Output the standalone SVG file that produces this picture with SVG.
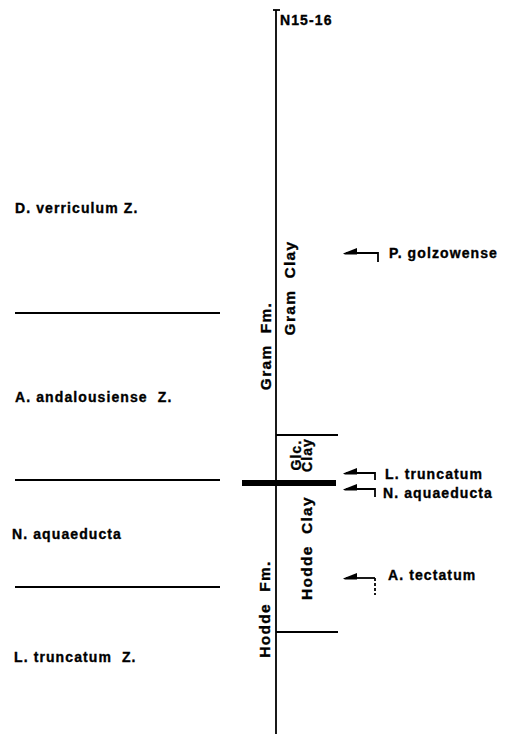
<svg xmlns="http://www.w3.org/2000/svg" width="508" height="734" viewBox="0 0 508 734">
<style>
text{font-family:"Liberation Sans",Arial,sans-serif;font-weight:bold;font-size:14px;letter-spacing:1.1px;fill:#000;stroke:#000;stroke-width:0.35;white-space:pre}
.v{font-size:15.5px;letter-spacing:1.3px}
.l{stroke:#000;stroke-width:1.8;fill:none}
.d{stroke:#000;stroke-width:1.8;fill:none;stroke-dasharray:3,2}
</style>
<defs>
<path id="ah" d="M-2,0.5 L12,-5 L12,1.5 L0,1.5 Z" fill="#000"/>
</defs>
<rect width="508" height="734" fill="#fff"/>
<g id="connectors">
<line class="l" x1="276" y1="10" x2="276" y2="734" stroke-width="2"/>
<line class="l" x1="273" y1="10" x2="280" y2="10"/>
<line class="l" x1="15" y1="313" x2="220" y2="313"/>
<line class="l" x1="15" y1="480" x2="220" y2="480"/>
<line class="l" x1="15" y1="587" x2="220" y2="587"/>
<line class="l" x1="276" y1="435" x2="338" y2="435"/>
<line class="l" x1="276" y1="632" x2="338" y2="632"/>
<line x1="242" y1="483" x2="336" y2="483" stroke="#000" stroke-width="6"/>
</g>
<g id="top"><text x="280" y="25">N15-16</text></g>
<g id="zones">
<text x="15" y="213">D. verriculum Z.</text>
<text x="15" y="402">A. andalousiense  Z.</text>
<text x="12" y="539">N. aquaeducta</text>
<text x="14" y="662">L. truncatum  Z.</text>
</g>
<g id="units">
<text class="v" transform="translate(271,346) rotate(-90)" text-anchor="middle">Gram  Fm.</text>
<text class="v" transform="translate(295,288) rotate(-90)" text-anchor="middle">Gram  Clay</text>
<text transform="translate(301,455) rotate(-90)" text-anchor="middle">Glc.</text>
<text transform="translate(312,455) rotate(-90)" text-anchor="middle">Clay</text>
<text class="v" transform="translate(312,548) rotate(-90)" text-anchor="middle">Hodde  Clay</text>
<text class="v" transform="translate(270,609) rotate(-90)" text-anchor="middle">Hodde  Fm.</text>
</g>
<g id="m1">
<use href="#ah" x="345" y="253"/>
<path class="l" d="M346,253 H378 V262"/>
<text x="389" y="258">P. golzowense</text>
</g>
<g id="m2">
<use href="#ah" x="345" y="473"/>
<path class="l" d="M346,473 H375 V480"/>
<text x="385" y="479">L. truncatum</text>
</g>
<g id="m3">
<use href="#ah" x="345" y="489"/>
<path class="l" d="M346,489 H375 V497"/>
<text x="383" y="498">N. aquaeducta</text>
</g>
<g id="m4">
<use href="#ah" x="345" y="578"/>
<path class="l" d="M346,578 H375"/>
<path class="d" d="M375,578 V595"/>
<text x="388" y="580">A. tectatum</text>
</g>
</svg>
